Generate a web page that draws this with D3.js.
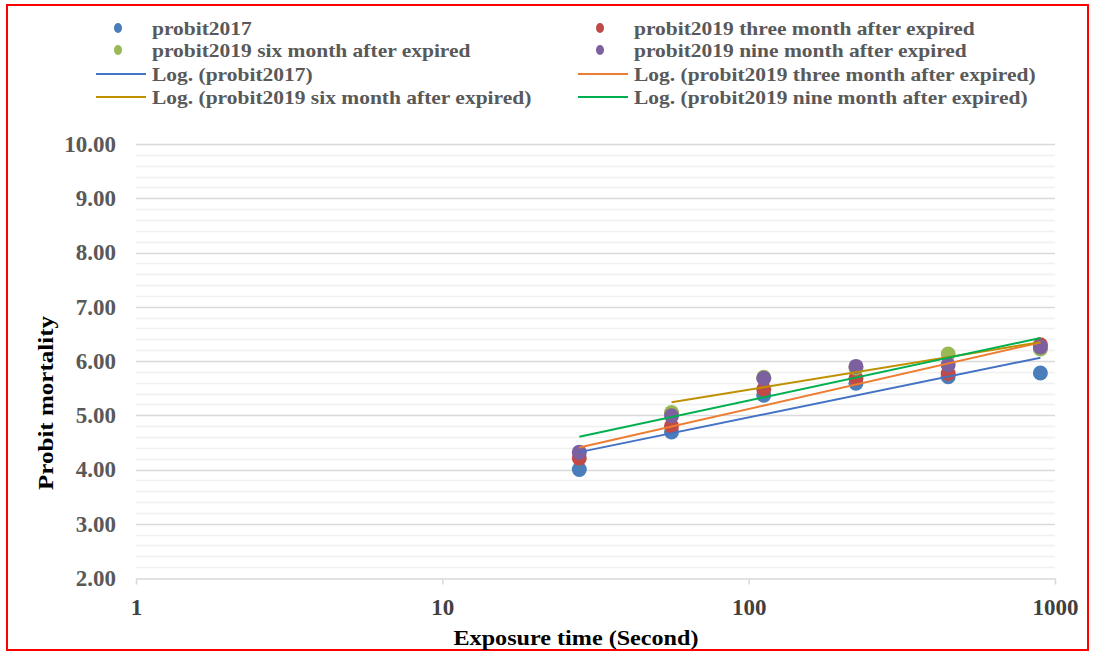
<!DOCTYPE html>
<html><head><meta charset="utf-8">
<script src="https://cdn.jsdelivr.net/npm/d3@7"></script>
<style>body{margin:0;background:#fff}svg{display:block}</style>
</head><body>
<svg id="c" width="1094" height="656"></svg>
<script>
const times = [28, 56, 112, 224, 448, 896];
const probit2017 = [4.00, 4.69, 5.37, 5.59, 5.71, 5.78];
const probit2019Three = [4.21, 4.80, 5.48, 5.68, 5.77, 6.30];
const probit2019Six = [null, 5.05, 5.70, 5.87, 6.13, 6.22];
const probit2019Nine = [4.32, 4.99, 5.68, 5.90, 5.93, 6.26];
const seriesNames = ["probit2017", "probit2019 three month after expired", "probit2019 six month after expired", "probit2019 nine month after expired"];
const pointColors = ["#4a7ebb", "#be4b48", "#98b954", "#7d60a0"];
const trendColors = ["#4472c4", "#ed7d31", "#bf9000", "#00b050"];
const xTicks = [1, 10, 100, 1000];
const yTicks = [2, 3, 4, 5, 6, 7, 8, 9, 10];

const FONT = "'Liberation Serif', 'Times New Roman', serif";
const svg = d3.select("#c");
const x = d3.scaleLog().domain([1, 1000]).range([136, 1055]);
const y = d3.scaleLinear().domain([2, 10]).range([578, 144]);
const series = [probit2017, probit2019Three, probit2019Six, probit2019Nine];

// border
svg.append("rect").attr("x", 7).attr("y", 5).attr("width", 1081).attr("height", 645)
  .attr("fill", "none").attr("stroke", "#ff0000").attr("stroke-width", 2);

// minor gridlines
const minor = d3.range(2.2, 10, 0.2).filter(v => Math.abs(v - Math.round(v)) > 0.01);
svg.append("g").selectAll("line").data(minor).join("line")
  .attr("x1", 136).attr("x2", 1055).attr("y1", d => Math.round(y(d)) + 0.5).attr("y2", d => Math.round(y(d)) + 0.5)
  .attr("stroke", "#f0f0f0").attr("stroke-width", 1.5);
// major gridlines
svg.append("g").selectAll("line").data(yTicks.slice(1)).join("line")
  .attr("x1", 136).attr("x2", 1055).attr("y1", d => Math.round(y(d)) + 0.5).attr("y2", d => Math.round(y(d)) + 0.5)
  .attr("stroke", "#d9d9d9").attr("stroke-width", 1.5);

// x axis
const xa = svg.append("g").attr("transform", `translate(0,${Math.round(y(2)) + 0.5})`)
  .call(d3.axisBottom(x).tickValues(xTicks).tickFormat(d3.format("d")).tickSizeInner(6).tickSizeOuter(0).tickPadding(14));
xa.select(".domain").attr("stroke", "#d9d9d9").attr("stroke-width", 1.5);
xa.selectAll(".tick line").attr("stroke", "#d9d9d9").attr("stroke-width", 1.5);
xa.selectAll(".tick text").attr("font-family", FONT).attr("font-weight", "bold")
  .attr("font-size", 23).attr("fill", "#404040");

// y axis labels
const ya = svg.append("g").attr("transform", "translate(136,0)")
  .call(d3.axisLeft(y).tickValues(yTicks).tickFormat(d3.format(".2f")).tickSize(0).tickPadding(20));
ya.select(".domain").remove();
ya.selectAll(".tick text").attr("font-family", FONT).attr("font-weight", "bold")
  .attr("font-size", 23).attr("fill", "#595959");

// axis titles
svg.append("text").attr("x", 576).attr("y", 645).attr("text-anchor", "middle")
  .attr("font-family", FONT).attr("font-weight", "bold").attr("font-size", 22)
  .attr("textLength", 245).attr("lengthAdjust", "spacingAndGlyphs")
  .attr("fill", "#000").text("Exposure time (Second)");
svg.append("text").attr("transform", "translate(53,403) rotate(-90)").attr("text-anchor", "middle")
  .attr("font-family", FONT).attr("font-weight", "bold").attr("font-size", 22)
  .attr("textLength", 174).attr("lengthAdjust", "spacingAndGlyphs")
  .attr("fill", "#000").text("Probit mortality");

// points
series.forEach((s, i) => {
  const pts = times.map((t, j) => ({t, v: s[j]})).filter(d => d.v != null);
  svg.append("g").selectAll("circle").data(pts).join("circle")
    .attr("cx", d => x(d.t)).attr("cy", d => y(d.v)).attr("r", 7.5)
    .attr("fill", pointColors[i]);
});

// logarithmic trendlines (least squares on ln x, as the spreadsheet does)
series.forEach((s, i) => {
  const pts = times.map((t, j) => ({lx: Math.log(t), t, v: s[j]})).filter(d => d.v != null);
  const mx = d3.mean(pts, d => d.lx), my = d3.mean(pts, d => d.v);
  const a = d3.sum(pts, d => (d.lx - mx) * (d.v - my)) / d3.sum(pts, d => (d.lx - mx) ** 2);
  const b = my - a * mx;
  const ends = [pts[0].t, pts[pts.length - 1].t];
  svg.append("line")
    .attr("x1", x(ends[0])).attr("y1", y(a * Math.log(ends[0]) + b))
    .attr("x2", x(ends[1])).attr("y2", y(a * Math.log(ends[1]) + b))
    .attr("stroke", trendColors[i]).attr("stroke-width", 2);
});

// legend
const legItems = [];
seriesNames.forEach((n, i) => legItems.push({type: "pt", name: n, color: pointColors[i]}));
seriesNames.forEach((n, i) => legItems.push({type: "ln", name: "Log. (" + n + ")", color: trendColors[i]}));
const colX = [96, 578], rowY = [28, 50, 74, 97];
const lg = svg.append("g");
legItems.forEach((d, k) => {
  const cx = colX[k % 2], cy = rowY[Math.floor(k / 2)];
  if (d.type === "pt") {
    lg.append("ellipse").attr("cx", cx + 22).attr("cy", cy).attr("rx", 4).attr("ry", 5).attr("fill", d.color);
  } else {
    lg.append("line").attr("x1", cx).attr("x2", cx + 50).attr("y1", cy).attr("y2", cy)
      .attr("stroke", d.color).attr("stroke-width", 2);
  }
  const t = lg.append("text").attr("x", cx + 56).attr("y", cy + 6.5)
    .attr("font-family", FONT).attr("font-weight", "bold").attr("font-size", 19)
    .attr("fill", "#595959").text(d.name);
  const w = t.node().getComputedTextLength();
  t.attr("textLength", w * 1.13).attr("lengthAdjust", "spacingAndGlyphs");
});
</script>
</body></html>
